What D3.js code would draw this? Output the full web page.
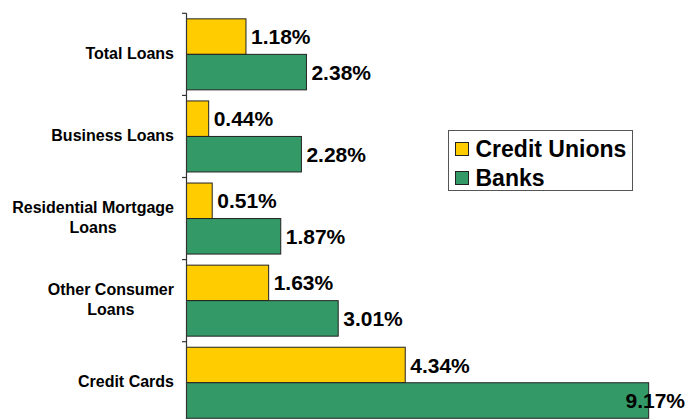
<!DOCTYPE html>
<html lang="en">
<head>
<meta charset="UTF-8">
<title>Loan delinquency: Credit Unions vs Banks</title>
<script src="https://d3js.org/d3.v7.min.js"></script>
<style>
  body { margin: 0; background: #fff; font-family: Arial, "Liberation Sans", sans-serif; }
  svg { display: block; }
</style>
</head>
<body>
<div id="chart"></div>
<script>
// data
const categories = ["Total Loans", "Business Loans", "Residential Mortgage\nLoans", "Other Consumer\nLoans", "Credit Cards"];
const series = ["Credit Unions", "Banks"];
const creditUnions = [1.18, 0.44, 0.51, 1.63, 4.34];
const banks = [2.38, 2.28, 1.87, 3.01, 9.17];
const colors = ["#FFCC00", "#339966"];

const width = 687, height = 419;
const axisX = 186.5;
const bandTop = 13.3, bandStep = 82.1;

const svg = d3.select("#chart").append("svg")
  .attr("width", width)
  .attr("height", height);

const y = d3.scaleBand()
  .domain(categories)
  .range([bandTop, bandTop + bandStep * categories.length])
  .paddingInner(0.135)
  .paddingOuter(0.0675);

const ySub = d3.scaleBand()
  .domain(series)
  .range([0, y.bandwidth()]);

const x = d3.scaleLinear()
  .domain([0, 10])
  .range([axisX, axisX + 504]);

const rows = categories.map((c, i) => ({cat: c, vals: [creditUnions[i], banks[i]]}));

// bars
const groups = svg.selectAll("g.cat")
  .data(rows)
  .enter().append("g")
  .attr("class", "cat")
  .attr("transform", d => `translate(0,${y(d.cat)})`);

groups.selectAll("rect")
  .data(d => d.vals.map((v, j) => ({s: series[j], v: v, j: j})))
  .enter().append("rect")
  .attr("x", x(0))
  .attr("y", d => ySub(d.s))
  .attr("width", d => x(d.v) - x(0))
  .attr("height", ySub.bandwidth())
  .attr("fill", d => colors[d.j])
  .attr("stroke", "#222")
  .attr("stroke-width", 1);

// value labels
groups.selectAll("text.val")
  .data(d => d.vals.map((v, j) => ({s: series[j], v: v, j: j})))
  .enter().append("text")
  .attr("class", "val")
  .attr("y", d => ySub(d.s) + ySub.bandwidth() / 2)
  .attr("dy", "0.36em")
  .attr("font-size", "21px")
  .attr("font-weight", "bold")
  .attr("fill", "#000")
  .text(d => d.v.toFixed(2) + "%")
  .each(function(d) {
    const t = d3.select(this);
    const w = this.getComputedTextLength();
    let xx = x(d.v) + 5;
    if (xx + w > width - 2) xx = width - 2 - w;  // keep inside the frame
    t.attr("x", xx);
  });

// axis line + ticks
svg.append("line")
  .attr("x1", axisX).attr("x2", axisX)
  .attr("y1", bandTop).attr("y2", height)
  .attr("stroke", "#333").attr("stroke-width", 1.2);

svg.selectAll("line.tick")
  .data(d3.range(categories.length + 1))
  .enter().append("line")
  .attr("class", "tick")
  .attr("x1", axisX - 4.5).attr("x2", axisX)
  .attr("y1", i => bandTop + i * bandStep)
  .attr("y2", i => bandTop + i * bandStep)
  .attr("stroke", "#333").attr("stroke-width", 1.2);

// category labels (lines centred, block right-aligned)
const labelRight = 174;
categories.forEach(c => {
  const lines = c.split("\n");
  const g = svg.append("g");
  const lh = 20;
  const cy = y(c) + y.bandwidth() / 2 - 1;
  const texts = lines.map((ln, k) => g.append("text")
    .attr("y", cy + (k - (lines.length - 1) / 2) * lh)
    .attr("dy", "0.35em")
    .attr("font-size", "16px")
    .attr("font-weight", "bold")
    .attr("text-anchor", "middle")
    .attr("fill", "#000")
    .text(ln));
  const maxW = d3.max(texts, t => t.node().getComputedTextLength());
  texts.forEach(t => t.attr("x", labelRight - maxW / 2));
});

// legend
const legend = svg.append("g").attr("transform", "translate(448.5,130.5)");
legend.append("rect")
  .attr("width", 184).attr("height", 60)
  .attr("fill", "#fff").attr("stroke", "#555").attr("stroke-width", 1);

const items = legend.selectAll("g.item")
  .data(series)
  .enter().append("g")
  .attr("class", "item")
  .attr("transform", (d, i) => `translate(7,${12 + i * 29})`);

items.append("rect")
  .attr("width", 13).attr("height", 13)
  .attr("fill", (d, i) => colors[i])
  .attr("stroke", "#222");

items.append("text")
  .attr("x", 20)
  .attr("y", 6.5)
  .attr("dy", "0.36em")
  .attr("font-size", "23px")
  .attr("font-weight", "bold")
  .attr("fill", "#000")
  .text(d => d);
</script>
</body>
</html>
